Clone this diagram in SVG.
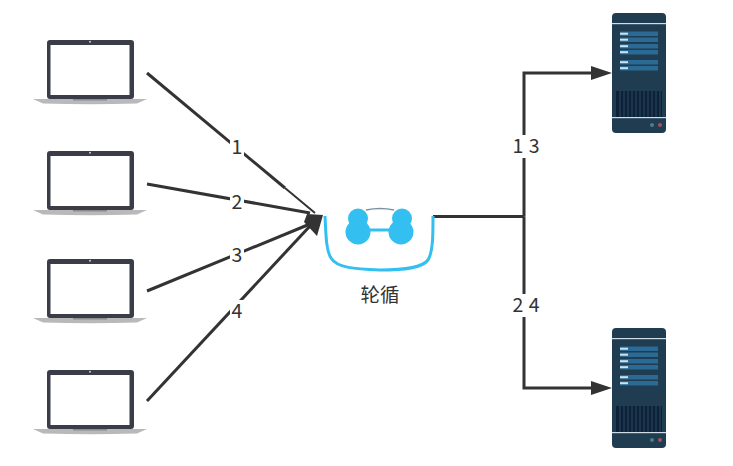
<svg xmlns="http://www.w3.org/2000/svg" xmlns:xlink="http://www.w3.org/1999/xlink" width="733" height="466" viewBox="0 0 733 466">
<style>
.c{fill:none;stroke:#333;stroke-width:3}
.h{fill:#333}
.t{font-family:"Noto Sans CJK SC","Liberation Sans",sans-serif;font-size:19.500px;fill:#333;text-anchor:middle}
.bg{fill:#fff}
.s{fill:#2a6a94}
.w{fill:#cfe3ee}
</style>
<defs>
<g id="laptop">
<rect x="14" y="0" width="87" height="59" rx="3" fill="#3a3c48"/>
<rect x="17.500" y="5" width="79" height="50" fill="#fff"/>
<circle cx="57" cy="1.800" r="1" fill="#ccc"/>
<path d="M0 59H114L104 63.500Q57 65 10 63.500Z" fill="#b9b9b9"/>
<rect x="40" y="59" width="34" height="1.500" fill="#8c8c8c"/>
</g>
<g id="server">
<rect x="0" y="0" width="54" height="120" rx="4" fill="#1f3c50"/>
<rect x="0" y="10" width="54" height="1.200" fill="#cfdde6"/>
<rect x="8" y="18.500" width="38" height="4.500" class="s"/><rect x="8" y="24.500" width="38" height="4.500" class="s"/>
<rect x="8" y="31" width="38" height="4.500" class="s"/><rect x="8" y="37" width="38" height="4.500" class="s"/>
<rect x="8" y="47" width="38" height="4.500" class="s"/><rect x="8" y="53" width="38" height="4.500" class="s"/>
<rect x="8" y="19.700" width="8" height="2" class="w"/><rect x="8" y="25.700" width="8" height="2" class="w"/>
<rect x="8" y="32.200" width="8" height="2" class="w"/><rect x="8" y="38.200" width="8" height="2" class="w"/>
<rect x="8" y="48.200" width="8" height="2" class="w"/><rect x="8" y="54.200" width="8" height="2" class="w"/>
<rect x="4" y="78" width="46" height="26" fill="#0d2138"/>
<path d="M8 78V104M12 78V104M16 78V104M20 78V104M24 78V104M28 78V104M32 78V104M36 78V104M40 78V104M44 78V104M48 78V104" stroke="#2b4a63" stroke-width="1"/>
<rect x="0" y="104" width="54" height="1.200" fill="#cfdde6"/>
<circle cx="40" cy="112" r="2" fill="#4f7d84"/>
<circle cx="48" cy="112" r="2" fill="#a5525f"/>
</g>
</defs>
<rect width="733" height="466" fill="#fff"/>
<g id="connectors">
<path class="c" d="M147 73L285 188"/>
<path d="M285 188L315 213" fill="none" stroke="#333" stroke-width="2"/>
<path class="c" d="M147 184L310 213"/>
<path class="c" d="M147 291L310 224"/>
<path class="c" d="M147 401L310 226"/>
<path class="c" d="M433 216.500H524"/>
<path class="c" d="M524 216.500V73H593"/>
<path class="c" d="M524 216.500V388H593"/>
<path class="h" d="M612 73L591 66V80Z"/>
<path class="h" d="M612 388L591 381V395Z"/>
<path class="h" d="M323 215L307 214L304 222L317 236Z"/>
<g id="edge-labels">
<rect class="bg" x="230" y="136" width="14" height="22"/>
<rect class="bg" x="230" y="191" width="14" height="22"/>
<rect class="bg" x="230" y="244" width="14" height="22"/>
<rect class="bg" x="230" y="300" width="14" height="22"/>
<rect class="bg" x="511" y="135" width="30" height="23"/>
<rect class="bg" x="511" y="294" width="30" height="23"/>
<text class="t" x="237" y="153.500">1</text>
<text class="t" x="237" y="209">2</text>
<text class="t" x="237" y="262">3</text>
<text class="t" x="237" y="317.500">4</text>
<text class="t" x="526" y="153" xml:space="preserve" word-spacing="1">1 3</text>
<text class="t" x="526" y="311.500" xml:space="preserve" word-spacing="1">2 4</text>
</g>
</g>
<use id="client-1" xlink:href="#laptop" href="#laptop" x="33" y="40"/>
<use id="client-2" xlink:href="#laptop" href="#laptop" x="33" y="151"/>
<use id="client-3" xlink:href="#laptop" href="#laptop" x="33" y="259"/>
<use id="client-4" xlink:href="#laptop" href="#laptop" x="33" y="370"/>
<use id="server-1" xlink:href="#server" href="#server" x="612" y="13"/>
<use id="server-2" xlink:href="#server" href="#server" x="612" y="328"/>
<g id="balancer">
<path d="M325 216C326 235 326 250 331 258C337 268 355 269 380 270C405 270 422 268 428 260C433 252 433 235 433 216" fill="none" stroke="#33c0f0" stroke-width="3"/>
<path d="M358 230H401" stroke="#33c0f0" stroke-width="3"/>
<circle cx="358" cy="232" r="12.500" fill="#33c0f0"/>
<circle cx="401" cy="232" r="12.500" fill="#33c0f0"/>
<circle cx="358" cy="218.500" r="10" fill="#33c0f0"/>
<circle cx="402" cy="218.500" r="10" fill="#33c0f0"/>
<path d="M366 210Q380 207 394 210" fill="none" stroke="#7d93a3" stroke-width="1.500"/>
<text class="t" x="380" y="302">轮循</text>
</g>
</svg>
